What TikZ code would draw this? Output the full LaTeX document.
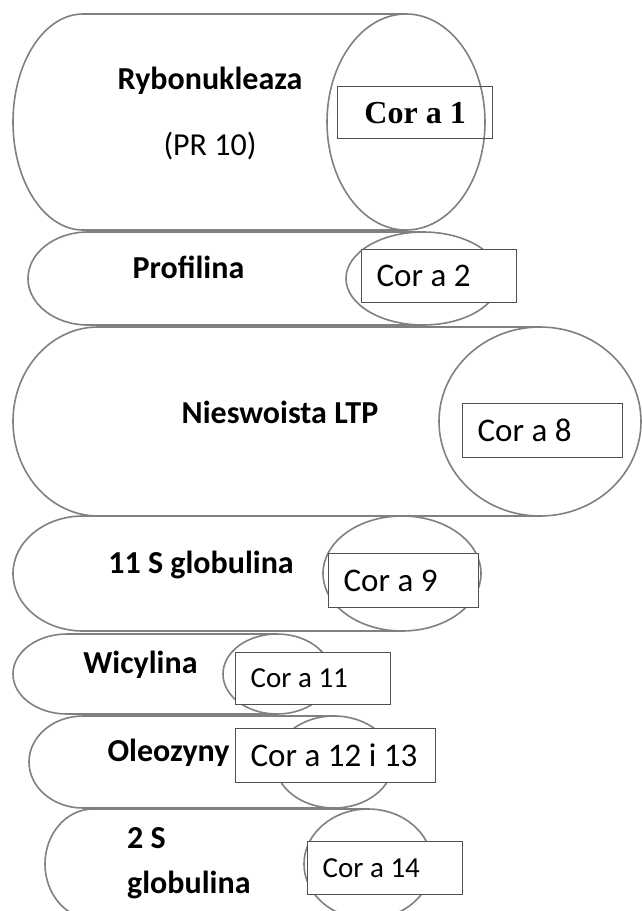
\documentclass[tikz,border=0pt]{standalone}
\usepackage{fontspec}
\setmainfont{Carlito}
\newfontfamily\corserif{Liberation Serif}
\definecolor{cylgray}{HTML}{808080}
\definecolor{boxgray}{HTML}{505050}
% #1 left x, #2 left cap radius, #3 top, #4 bottom, #5 ellipse cx, #6 ellipse rx, #7 ellipse ry, #8 ellipse cy
\newcommand{\mycyl}[8]{%
  \draw[cyl] ({#1+#2},#3) -- (#5,#3) (#5,#4) -- ({#1+#2},#4)
    .. controls ({#1+0.4477*#2},#4) and (#1,{(#3+#4)/2+0.5523*(#4-#3)/2}) .. (#1,{(#3+#4)/2})
    .. controls (#1,{(#3+#4)/2-0.5523*(#4-#3)/2}) and ({#1+0.4477*#2},#3) .. ({#1+#2},#3);
  \draw[cyl] (#5,#8) ellipse [x radius=#6, y radius=#7];
}
\tikzset{
  cyl/.style={draw=cylgray, line width=1.6pt},
  lab/.style={anchor=base, inner sep=0pt, font=\bfseries\fontsize{32}{38}\selectfont},
  labreg/.style={anchor=base, inner sep=0pt, font=\fontsize{32}{38}\selectfont},
  corbox/.style={draw=boxgray, line width=1.3pt, fill=white, anchor=north west,
    inner xsep=15pt, inner ysep=0pt, font=\fontsize{33}{38}\selectfont},
  corsmall/.style={corbox, font=\fontsize{29}{34}\selectfont},
}
\begin{document}
\begin{tikzpicture}[x=1pt, y=-1pt]
\useasboundingbox (0,0) rectangle (641,911);
\fill[white] (0,0) rectangle (641,911);
% cylinders
\mycyl{13}{70}{14}{230}{406}{79}{108}{122}
\mycyl{28}{60}{232}{325}{423}{77}{46.5}{278.5}
\mycyl{13}{85}{327}{516}{540}{101}{94.5}{421.5}
\mycyl{13}{70}{516}{631}{402}{79}{57.5}{573.5}
\mycyl{13}{54}{634}{714}{277}{54}{40}{674}
\mycyl{29}{54}{716}{808}{334}{59}{46}{762}
\mycyl{45}{48}{809}{919}{368}{64}{55}{864}
% labels
\node[lab] (ryb) at (210,89) {Rybonukleaza};
\node[labreg] (pr) at (210,155) {(PR 10)};
\node[lab] (prof) at (188.5,278) {Profilina};
\node[lab] (ltp) at (280,423) {Nieswoista LTP};
\node[lab] (glob11) at (201,573) {11 S globulina};
\node[lab] (wic) at (140.5,673) {Wicylina};
\node[lab] (oleo) at (168.5,761) {Oleozyny};
\node[lab, anchor=base west] (twos) at (127,848) {2 S};
\node[lab, anchor=base west] (glob2) at (127,893) {globulina};
% boxes
\node[corbox, fill=none, minimum height=52pt,
  font=\corserif\bfseries\fontsize{32}{38}\selectfont] (c1) at (337,86) {\makebox[125pt][c]{Cor a 1}};
\node[corbox, minimum height=53pt] (c2) at (361,249) {\makebox[125pt][l]{Cor a 2}};
\node[corbox, minimum height=54pt] (c8) at (462,403) {\makebox[130pt][l]{Cor a 8}};
\node[corbox, minimum height=54pt] (c9) at (328,553) {\makebox[120pt][l]{Cor a 9}};
\node[corsmall, minimum height=52pt] (c11) at (235,652) {\makebox[125pt][l]{Cor a 11}};
\node[corbox, minimum height=54pt] (c12) at (235,728) {\makebox[170pt][l]{Cor a 12 i 13}};
\node[corsmall, minimum height=53pt] (c14) at (307,841) {\makebox[125pt][l]{Cor a 14}};
\end{tikzpicture}
\end{document}
